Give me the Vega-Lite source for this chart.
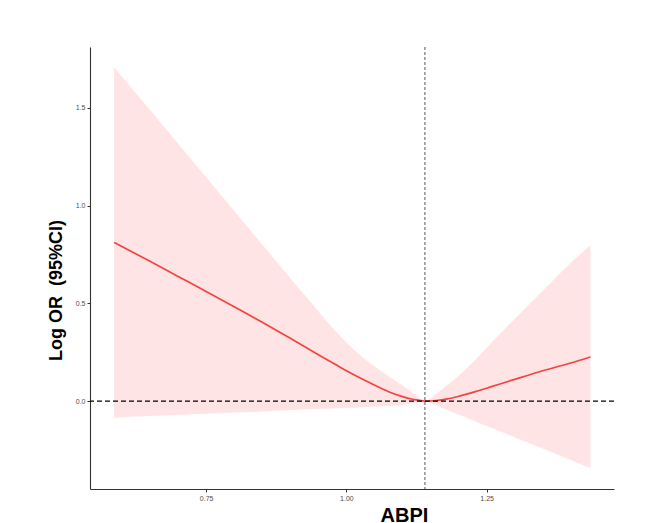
{
  "$schema": "https://vega.github.io/schema/vega-lite/v6.json",
  "width": 524,
  "height": 442,
  "autosize": "none",
  "padding": {"left": 90, "top": 47, "right": 34, "bottom": 34},
  "background": "white",
  "config": {"view": {"stroke": null}, "font": "Liberation Sans"},
  "datasets": {
    "rcs": [
      {"abpi": 0.586, "or": 0.812, "lo": -0.085, "hi": 1.709},
      {"abpi": 0.65, "or": 0.715, "lo": -0.077, "hi": 1.489},
      {"abpi": 0.70, "or": 0.638, "lo": -0.071, "hi": 1.317},
      {"abpi": 0.75, "or": 0.561, "lo": -0.065, "hi": 1.145},
      {"abpi": 0.80, "or": 0.483, "lo": -0.059, "hi": 0.973},
      {"abpi": 0.85, "or": 0.403, "lo": -0.053, "hi": 0.801},
      {"abpi": 0.90, "or": 0.321, "lo": -0.047, "hi": 0.629},
      {"abpi": 0.95, "or": 0.237, "lo": -0.041, "hi": 0.460},
      {"abpi": 0.98, "or": 0.188, "lo": -0.037, "hi": 0.360},
      {"abpi": 1.00, "or": 0.155, "lo": -0.035, "hi": 0.300},
      {"abpi": 1.03, "or": 0.110, "lo": -0.031, "hi": 0.222},
      {"abpi": 1.06, "or": 0.068, "lo": -0.027, "hi": 0.158},
      {"abpi": 1.08, "or": 0.043, "lo": -0.024, "hi": 0.118},
      {"abpi": 1.10, "or": 0.023, "lo": -0.019, "hi": 0.080},
      {"abpi": 1.12, "or": 0.008, "lo": -0.010, "hi": 0.040},
      {"abpi": 1.14, "or": 0.0, "lo": 0.0, "hi": 0.001},
      {"abpi": 1.16, "or": 0.003, "lo": -0.023, "hi": 0.038},
      {"abpi": 1.18, "or": 0.011, "lo": -0.046, "hi": 0.082},
      {"abpi": 1.20, "or": 0.024, "lo": -0.069, "hi": 0.130},
      {"abpi": 1.23, "or": 0.048, "lo": -0.104, "hi": 0.212},
      {"abpi": 1.26, "or": 0.075, "lo": -0.139, "hi": 0.304},
      {"abpi": 1.30, "or": 0.111, "lo": -0.185, "hi": 0.420},
      {"abpi": 1.35, "or": 0.155, "lo": -0.243, "hi": 0.564},
      {"abpi": 1.40, "or": 0.195, "lo": -0.301, "hi": 0.708},
      {"abpi": 1.435, "or": 0.226, "lo": -0.342, "hi": 0.797}
    ]
  },
  "layer": [
    {
      "data": {"name": "rcs"},
      "mark": {"type": "area", "color": "#ffe4e5", "opacity": 1, "interpolate": "monotone"},
      "encoding": {
        "x": {
          "field": "abpi", "type": "quantitative",
          "scale": {"domain": [0.543, 1.477], "nice": false, "zero": false},
          "axis": {
            "title": "ABPI", "values": [0.75, 1.0, 1.25], "format": ".2f",
            "grid": false, "domainColor": "#333333", "domainWidth": 1.1,
            "tickColor": "#333333", "tickSize": 3, "labelFontSize": 7, "labelColor": "#4d4d4d",
            "labelPadding": 2,
            "titleFontSize": 20, "titleFontWeight": "bold", "titleColor": "black",
            "titleX": 314, "titleY": 32, "titleBaseline": "alphabetic"
          }
        },
        "y": {
          "field": "lo", "type": "quantitative",
          "scale": {"domain": [-0.45, 1.812], "nice": false, "zero": false},
          "axis": {
            "title": "Log OR \u00a0(95%CI)", "values": [0, 0.5, 1, 1.5], "format": ".1f",
            "grid": false, "domainColor": "#333333", "domainWidth": 1.1,
            "tickColor": "#333333", "tickSize": 3, "labelFontSize": 7, "labelColor": "#4d4d4d",
            "labelPadding": 2,
            "titleFontSize": 18, "titleFontWeight": "bold", "titleColor": "black",
            "titleAngle": -90, "titleBaseline": "middle", "titleX": -34, "titleY": 243
          }
        },
        "y2": {"field": "hi"}
      }
    },
    {
      "data": {"name": "rcs"},
      "mark": {"type": "line", "color": "#f54242", "strokeWidth": 1.7, "interpolate": "monotone"},
      "encoding": {
        "x": {"field": "abpi", "type": "quantitative"},
        "y": {"field": "or", "type": "quantitative"}
      }
    },
    {
      "data": {"values": [{"ref": 0}]},
      "mark": {"type": "rule", "color": "#000000", "strokeWidth": 1.2, "strokeDash": [5, 3]},
      "encoding": {"y": {"field": "ref", "type": "quantitative"}}
    },
    {
      "data": {"values": [{"knot": 1.14}]},
      "mark": {"type": "rule", "color": "#555555", "strokeWidth": 1, "strokeDash": [3, 2]},
      "encoding": {"x": {"field": "knot", "type": "quantitative"}}
    }
  ]
}
